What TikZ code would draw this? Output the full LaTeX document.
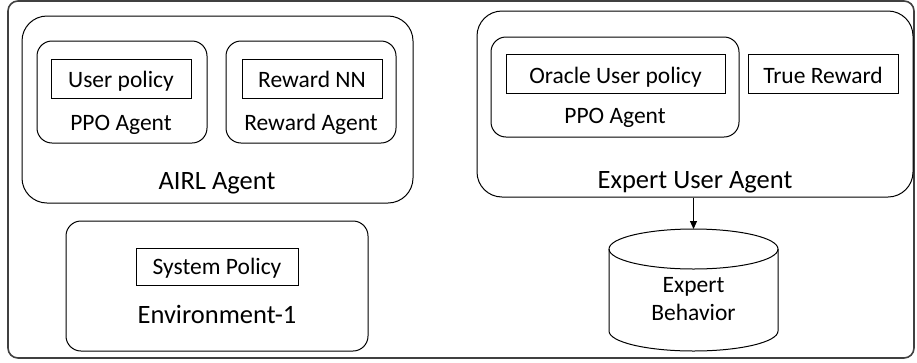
\documentclass[tikz,border=0pt]{standalone}
\usepackage{fontspec}
\setmainfont{Carlito}
\usetikzlibrary{arrows.meta}
\begin{document}
\begin{tikzpicture}[x=1pt,y=-1pt,
  rbox/.style={draw=black, line width=1pt, rounded corners=#1, inner sep=0pt},
  sbox/.style={draw=black, line width=1pt, inner sep=0pt},
  small/.style={font=\fontsize{23.5}{28}\selectfont, inner sep=0pt, anchor=base},
  big/.style={font=\fontsize{26.5}{30}\selectfont, inner sep=0pt, anchor=base},
  arr/.style={line width=1pt, -{Triangle[length=8pt,width=7pt]}}]
\useasboundingbox (0,0) rectangle (917,362);
% outer frame
\node[rbox=10, draw=black!75, line width=1.6pt, minimum width=906, minimum height=357] (outer) at (461,179.5) {};
% AIRL agent
\node[rbox=25, minimum width=391, minimum height=187] (airl) at (217.5,109.5) {};
\node[rbox=15, minimum width=170, minimum height=102] (ppol) at (122,92) {};
\node[sbox, minimum width=140, minimum height=39] (up) at (121,78.5) {};
\node[small] (uptxt) at (121,87.3) {User policy};
\node[small] (ppoltxt) at (121,130) {PPO Agent};
\node[rbox=15, minimum width=170, minimum height=102] (rew) at (311,92) {};
\node[sbox, minimum width=140, minimum height=39] (rnn) at (312,78.5) {};
\node[small] (rnntxt) at (312,87.3) {Reward NN};
\node[small] (rewtxt) at (311,130) {Reward Agent};
\node[big] (airltxt) at (217,189) {AIRL Agent};
% Expert user agent
\node[rbox=25, minimum width=436, minimum height=186] (eua) at (695,104) {};
\node[rbox=15, minimum width=248, minimum height=100] (ppor) at (615,87) {};
\node[sbox, minimum width=219, minimum height=39] (oup) at (615.5,73.5) {};
\node[small] (ouptxt) at (615.5,83) {Oracle User policy};
\node[small] (pportxt) at (615,123) {PPO Agent};
\node[sbox, minimum width=150, minimum height=39] (tr) at (823,73.5) {};
\node[small] (trtxt) at (823,83) {True Reward};
\node[big] (euatxt) at (695,188) {Expert User Agent};
% Environment
\node[rbox=15, minimum width=302, minimum height=130] (env) at (217,286) {};
\node[sbox, minimum width=162, minimum height=37] (sp) at (217,266.5) {};
\node[small] (sptxt) at (217,274) {System Policy};
\node[big] (envtxt) at (217,323) {Environment-1};
% cylinder
\coordinate (cyltop) at (693.5,229);
\draw[line width=1pt] (693.5,249) ellipse [x radius=84.5, y radius=20];
\draw[line width=1pt] (609,249) -- (609,331)
  .. controls (609,342.05) and (646.83,351) .. (693.5,351)
  .. controls (740.17,351) and (778,342.05) .. (778,331) -- (778,249);
\node[small] (eb1) at (693.5,292) {Expert};
\node[small] (eb2) at (693.5,320) {Behavior};
% arrow
\draw[arr] (eua.south -| cyltop) -- (cyltop);
\end{tikzpicture}
\end{document}
